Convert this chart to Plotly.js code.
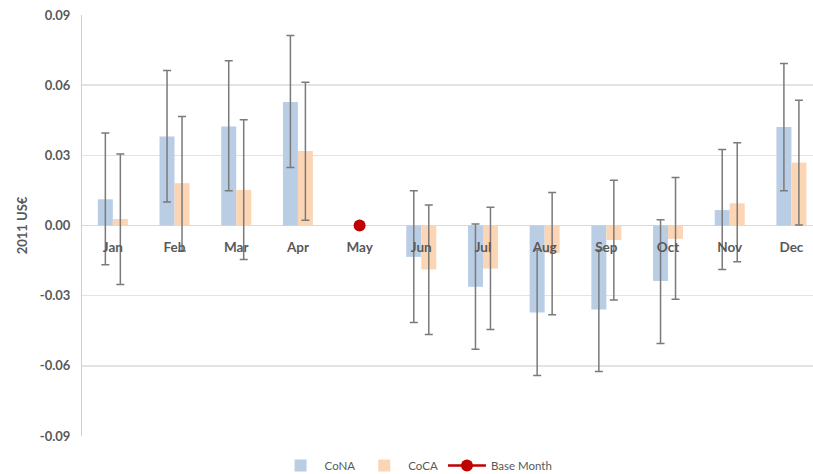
<!DOCTYPE html>
<html>
<head>
<meta charset="utf-8">
<script src="https://cdn.plot.ly/plotly-3.0.1.min.js"></script>
<style>html,body{margin:0;padding:0;background:#fff}#chart{width:813px;height:474px}</style>
</head>
<body>
<div id="chart"></div>
<script>
const months = ['Jan','Feb','Mar','Apr','May','Jun','Jul','Aug','Sep','Oct','Nov','Dec'];

const conaValues = [0.0112, 0.0380, 0.0423, 0.0528, null, -0.0134, -0.0262, -0.0372, -0.0359, -0.0237, 0.0066, 0.0421];
const conaErrPlus = [0.0283, 0.0283, 0.0281, 0.0284, null, 0.0283, 0.0268, 0.0267, 0.0254, 0.0262, 0.0259, 0.0272];
const conaErrMinus = [0.0280, 0.0279, 0.0274, 0.0280, null, 0.0281, 0.0267, 0.0269, 0.0265, 0.0267, 0.0254, 0.0272];

const cocaValues = [0.0028, 0.0181, 0.0152, 0.0318, null, -0.0188, -0.0184, -0.0117, -0.0062, -0.0057, 0.0095, 0.0269];
const cocaErrPlus = [0.0278, 0.0285, 0.0300, 0.0294, null, 0.0276, 0.0262, 0.0258, 0.0256, 0.0262, 0.0259, 0.0266];
const cocaErrMinus = [0.0280, 0.0290, 0.0297, 0.0296, null, 0.0278, 0.0261, 0.0265, 0.0256, 0.0258, 0.0250, 0.0267];

const baseMonth = ['May'];
const baseValue = [0];

const yTicks = [0.09, 0.06, 0.03, 0.00, -0.03, -0.06, -0.09];
const yTickLabels = ['0.09', '0.06', '0.03', '0.00', '-0.03', '-0.06', '-0.09'];

const errStyle = {type:'data', symmetric:false, color:'#7a7a7a', thickness:1.5, width:4};
const boldFont = {size:13, color:'#595959', family:'Lato, sans-serif', weight:'bold'};

const traces = [
  {type:'bar', name:'CoNA', x:months, y:conaValues,
   marker:{color:'#b9cde5'},
   error_y:Object.assign({array:conaErrPlus, arrayminus:conaErrMinus}, errStyle)},
  {type:'bar', name:'CoCA', x:months, y:cocaValues,
   marker:{color:'#fcd5b5'},
   error_y:Object.assign({array:cocaErrPlus, arrayminus:cocaErrMinus}, errStyle)},
  {type:'scatter', mode:'lines+markers', name:'Base Month', x:baseMonth, y:baseValue,
   marker:{color:'#c00000', size:12}, line:{color:'#c00000', width:2.5}}
];

const layout = {
  width:813, height:474,
  margin:{l:82, r:0, t:15, b:38},
  paper_bgcolor:'#fff', plot_bgcolor:'#fff',
  font:{family:'Lato, "Open Sans", sans-serif', color:'#595959'},
  barmode:'group', bargap:0.514, bargroupgap:0,
  showlegend:true,
  legend:{orientation:'h', xref:'container', yref:'container', x:0.513, y:0.018,
          xanchor:'center', yanchor:'middle', font:{size:11.5, color:'#595959'},
          traceorder:'normal', itemwidth:38},
  xaxis:{type:'category', range:[-0.5, 11.35], anchor:'free', position:0.5,
         showgrid:false, showline:false, zeroline:false, ticks:'',
         ticklabelstandoff:12,
         tickfont:Object.assign({}, boldFont, {size:13.5}),
         fixedrange:true},
  yaxis:{range:[-0.09, 0.09], tickmode:'array', tickvals:yTicks, ticktext:yTickLabels,
         showgrid:true, gridcolor:'#e3e3e3', gridwidth:1.5,
         zeroline:true, zerolinecolor:'#d9d9d9', zerolinewidth:1.5,
         showline:true, linecolor:'#cfcfcf', linewidth:1,
         ticks:'outside', ticklen:8, tickcolor:'rgba(0,0,0,0)',
         tickfont:boldFont,
         title:{text:'2011 US€', standoff:9, font:boldFont},
         fixedrange:true}
};

Plotly.newPlot('chart', traces, layout, {displayModeBar:false, staticPlot:true});
</script>
</body>
</html>
